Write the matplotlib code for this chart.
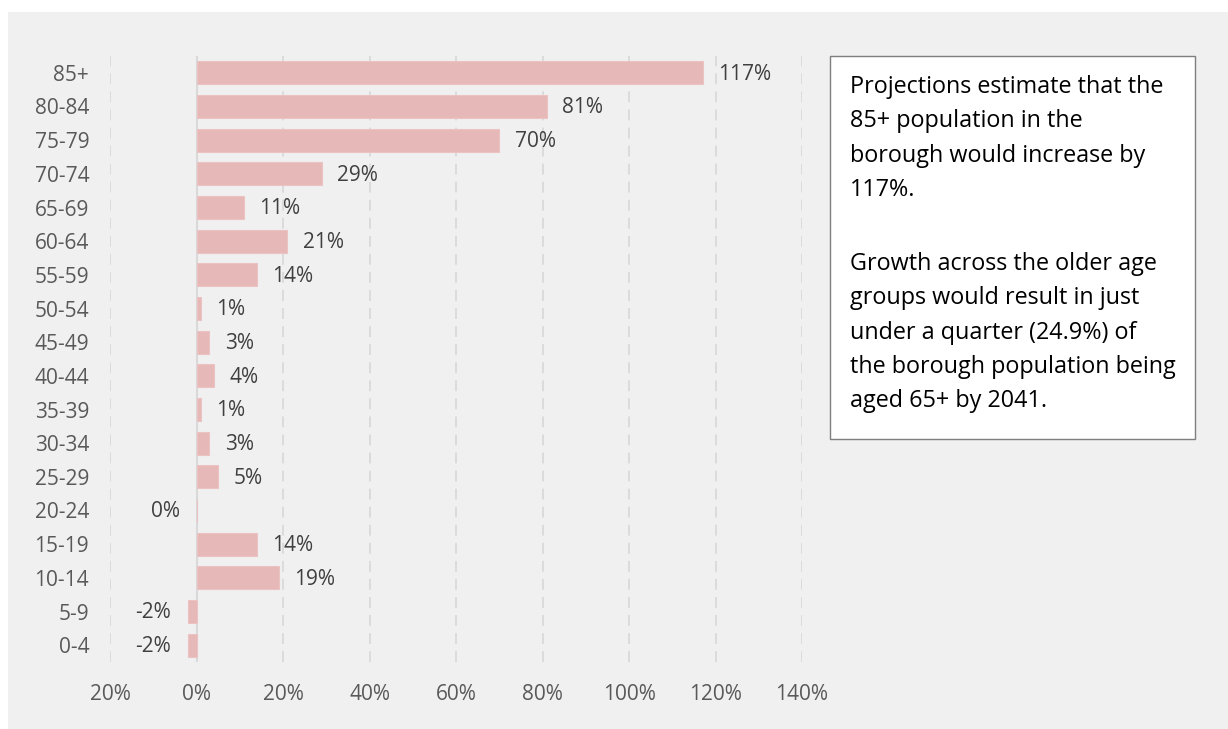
import matplotlib.pyplot as plt
import matplotlib.ticker as mticker
from matplotlib.patches import Rectangle

age_groups = ["0-4", "5-9", "10-14", "15-19", "20-24", "25-29", "30-34", "35-39",
              "40-44", "45-49", "50-54", "55-59", "60-64", "65-69", "70-74",
              "75-79", "80-84", "85+"]
growth_pct = [-2, -2, 19, 14, 0, 5, 3, 1, 4, 3, 1, 14, 21, 11, 29, 70, 81, 117]
x_ticks = [-20, 0, 20, 40, 60, 80, 100, 120, 140]

note_top = ("Projections estimate that the\n85+ population in the\n"
            "borough would increase by\n117%.")
note_bottom = ("Growth across the older age\ngroups would result in just\n"
               "under a quarter (24.9%) of\nthe borough population being\n"
               "aged 65+ by 2041.")


def main():
    plt.rcParams['font.family'] = ['Open Sans', 'DejaVu Sans']

    fig = plt.figure(figsize=(12.28, 7.29), dpi=100)
    fig.patch.set_facecolor('white')
    # grey chart area, inset a little from the top and left edges
    fig.patches.append(Rectangle((8 / 1228, 0), 1, 1 - 12 / 729, transform=fig.transFigure,
                                 facecolor='#F0F0F0', edgecolor='none', zorder=-5))

    ax = fig.add_axes([110 / 1228, 1 - 662 / 729, 692 / 1228, 606 / 729])
    ax.set_facecolor('none')
    ax.set_zorder(2)

    pos = range(len(age_groups))
    ax.barh(pos, growth_pct, height=0.69, color='#E6B8B7', edgecolor='#EAC3C2',
            linewidth=0.8, zorder=3)

    for y, v in zip(pos, growth_pct):
        if v > 0:
            ax.annotate(f"{v}%", (v, y), xytext=(11, -1), textcoords='offset points',
                        ha='left', va='center', fontsize=15, color='#404040')
        else:
            ax.annotate(f"{v}%", (v, y), xytext=(-12, -1), textcoords='offset points',
                        ha='right', va='center', fontsize=15, color='#404040')

    ax.set_xlim(-20, 140)
    ax.set_ylim(-0.5, len(age_groups) - 0.5)
    ax.set_xticks(x_ticks)
    ax.xaxis.set_major_formatter(mticker.FuncFormatter(lambda v, p: f"{abs(int(v))}%"))
    ax.set_yticks(list(pos))
    ax.set_yticklabels(age_groups)

    for x in x_ticks:
        if x == 0:
            ax.axvline(0, color='#D9D9D9', linewidth=1.5, zorder=2)
        else:
            ax.axvline(x, color='#D9D9D9', linewidth=1.3, linestyle=(0, (6, 4)), zorder=1)

    for s in ax.spines.values():
        s.set_visible(False)
    ax.tick_params(axis='both', length=0, labelsize=15, colors='#595959')
    ax.tick_params(axis='y', pad=15)
    ax.tick_params(axis='x', pad=16)

    # commentary box on the right
    fig.patches.append(Rectangle((830 / 1228, 1 - 439 / 729), 365 / 1228, 383 / 729,
                                 transform=fig.transFigure, facecolor='white',
                                 edgecolor='#7F7F7F', linewidth=1, zorder=3))
    fig.text(850 / 1228, 1 - 75 / 729, note_top, ha='left', va='top', fontsize=16.8,
             color='black', linespacing=1.57, zorder=4)
    fig.text(850 / 1228, 1 - 252 / 729, note_bottom, ha='left', va='top', fontsize=16.8,
             color='black', linespacing=1.57, zorder=4)

    plt.savefig("out.png", dpi=100)


if __name__ == "__main__":
    main()
